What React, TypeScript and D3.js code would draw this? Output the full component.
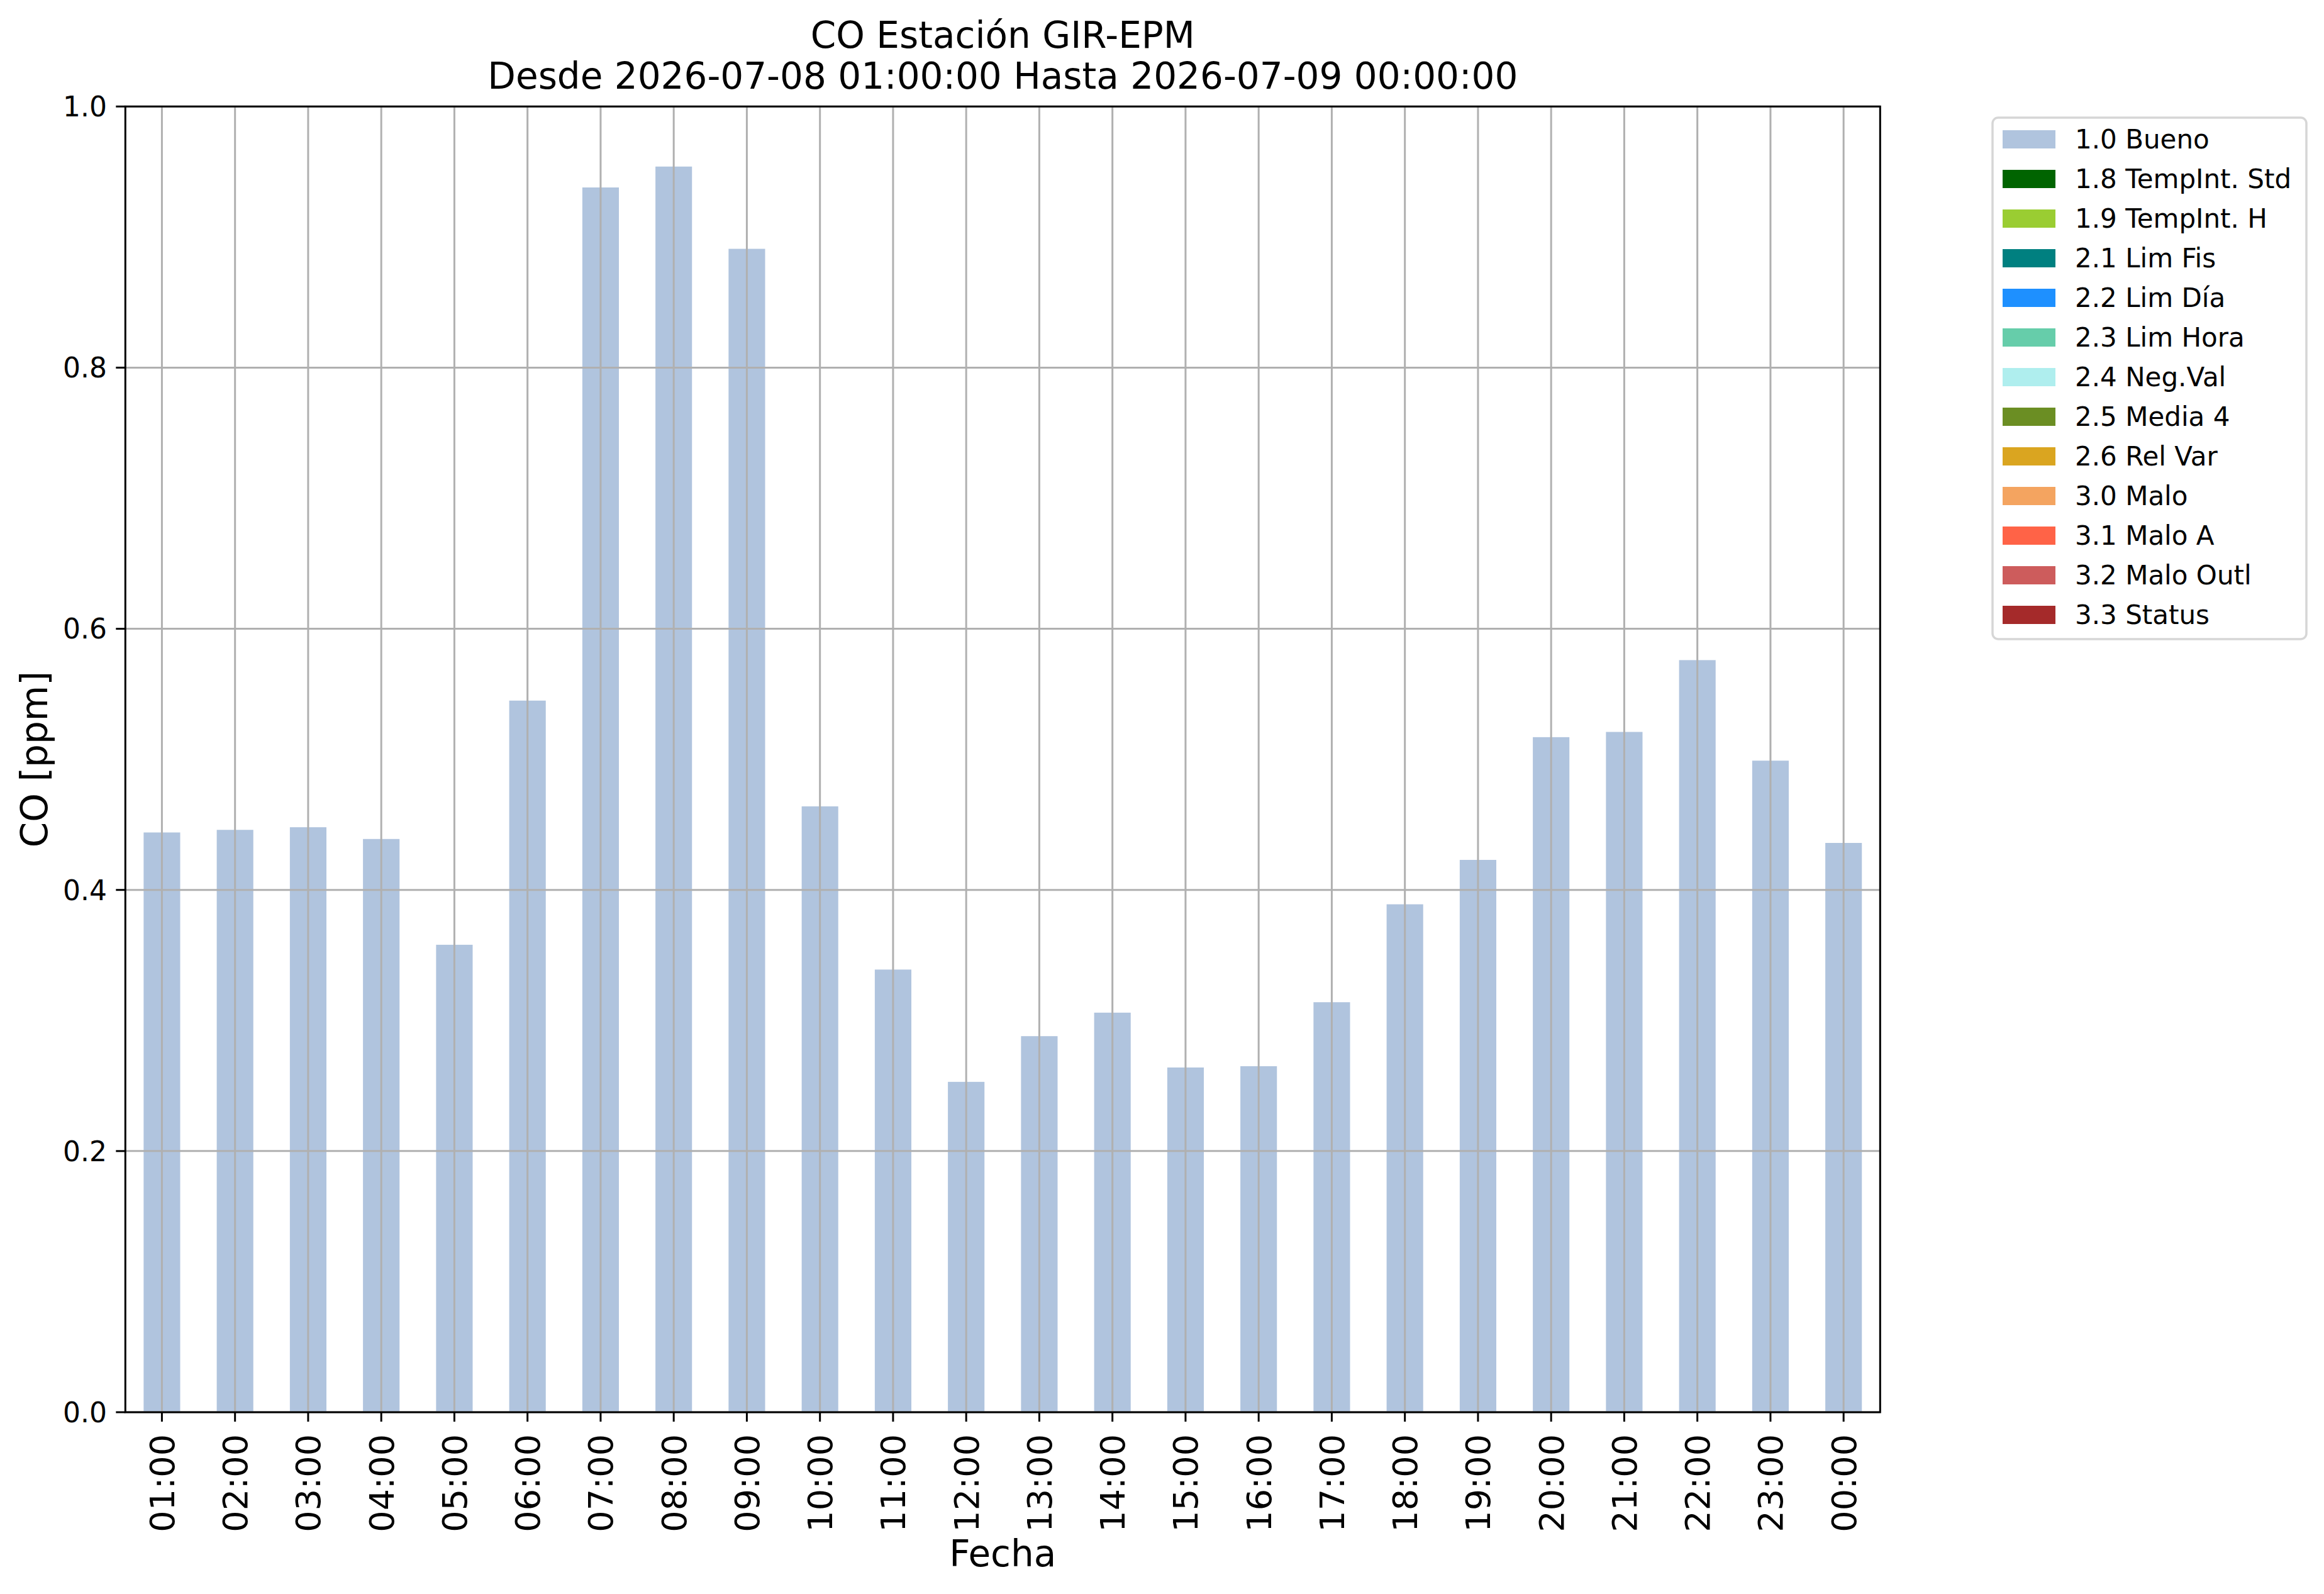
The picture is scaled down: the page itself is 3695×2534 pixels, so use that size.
import React from 'react';
import * as d3 from 'd3';

// Hourly CO concentration, station GIR-EPM
const hours = [
  '01:00', '02:00', '03:00', '04:00', '05:00', '06:00', '07:00', '08:00',
  '09:00', '10:00', '11:00', '12:00', '13:00', '14:00', '15:00', '16:00',
  '17:00', '18:00', '19:00', '20:00', '21:00', '22:00', '23:00', '00:00',
];
const coValues = [
  0.444, 0.446, 0.448, 0.439, 0.358, 0.545, 0.938, 0.954,
  0.891, 0.464, 0.339, 0.253, 0.288, 0.306, 0.264, 0.265,
  0.314, 0.389, 0.423, 0.517, 0.521, 0.576, 0.499, 0.436,
];
const yTicks = [0, 0.2, 0.4, 0.6, 0.8, 1.0];

const legendLabels = [
  '1.0 Bueno', '1.8 TempInt. Std', '1.9 TempInt. H', '2.1 Lim Fis',
  '2.2 Lim Día', '2.3 Lim Hora', '2.4 Neg.Val', '2.5 Media 4',
  '2.6 Rel Var', '3.0 Malo', '3.1 Malo A', '3.2 Malo Outl', '3.3 Status',
];
const legendColors = [
  '#b0c4de', '#006400', '#9acd32', '#008080',
  '#1e90ff', '#66cdaa', '#afeeee', '#6b8e23',
  '#daa520', '#f4a460', '#ff6347', '#cd5c5c', '#a52a2a',
];

const titleLines = ['CO Estación GIR-EPM', 'Desde 2026-07-08 01:00:00 Hasta 2026-07-09 00:00:00'];

const W = 3695;
const H = 2534;
const plot = { left: 199.3, top: 169.3, right: 2989.3, bottom: 2245 };
const font = 'DejaVu Sans, sans-serif';
const gridColor = '#b0b0b0';

export default function App() {
  const x = d3
    .scaleBand<string>()
    .domain(hours)
    .range([plot.left, plot.right])
    .paddingInner(0.5)
    .paddingOuter(0.25);

  const y = d3.scaleLinear().domain([0, 1]).range([plot.bottom, plot.top]);

  const cx = (h: string) => (x(h) ?? 0) + x.bandwidth() / 2;
  const midX = (plot.left + plot.right) / 2;
  const midY = (plot.top + plot.bottom) / 2;

  // legend geometry
  const lg = { x: 3168, y: 187, w: 499, h: 829, patchX: 3184, patchW: 84, patchH: 29, first: 207, step: 63, textX: 3299 };

  return (
    <svg
      width={W}
      height={H}
      viewBox={`0 0 ${W} ${H}`}
      style={{ position: 'absolute', left: 0, top: 0, background: '#fff' }}
      fontFamily={font}
    >
      <rect x={0} y={0} width={W} height={H} fill="#fff" />

      {/* title */}
      {titleLines.map((t, i) => (
        <text key={t} x={midX} y={76 + i * 65} textAnchor="middle" fontSize={58} fill="#000">
          {t}
        </text>
      ))}

      {/* bars */}
      {hours.map((h, i) => (
        <rect
          key={h}
          x={x(h)}
          y={y(coValues[i])}
          width={x.bandwidth()}
          height={y(0) - y(coValues[i])}
          fill="#b0c4de"
        />
      ))}

      {/* grid over bars */}
      {hours.map((h) => (
        <line key={'gx' + h} x1={cx(h)} x2={cx(h)} y1={plot.top} y2={plot.bottom} stroke={gridColor} strokeWidth={3} />
      ))}
      {yTicks.map((t) => (
        <line key={'gy' + t} x1={plot.left} x2={plot.right} y1={y(t)} y2={y(t)} stroke={gridColor} strokeWidth={3} />
      ))}

      {/* spines */}
      <rect
        x={plot.left}
        y={plot.top}
        width={plot.right - plot.left}
        height={plot.bottom - plot.top}
        fill="none"
        stroke="#000"
        strokeWidth={3}
      />

      {/* y ticks */}
      {yTicks.map((t) => (
        <g key={'yt' + t}>
          <line x1={plot.left - 15} x2={plot.left} y1={y(t)} y2={y(t)} stroke="#000" strokeWidth={3} />
          <text x={170} y={y(t)} dy="0.36em" textAnchor="end" fontSize={44} fill="#000">
            {d3.format('.1f')(t)}
          </text>
        </g>
      ))}

      {/* x ticks */}
      {hours.map((h) => (
        <g key={'xt' + h}>
          <line x1={cx(h)} x2={cx(h)} y1={plot.bottom} y2={plot.bottom + 15} stroke="#000" strokeWidth={3} />
          <text
            transform={`translate(${cx(h)},2280) rotate(-90)`}
            dy="0.36em"
            textAnchor="end"
            fontSize={54}
            fill="#000"
          >
            {h}
          </text>
        </g>
      ))}

      {/* axis labels */}
      <text x={midX} y={2490} textAnchor="middle" fontSize={58} fill="#000">
        Fecha
      </text>
      <text transform={`translate(75,${midY}) rotate(-90)`} textAnchor="middle" fontSize={58} fill="#000">
        CO [ppm]
      </text>

      {/* legend */}
      <rect x={lg.x} y={lg.y} width={lg.w} height={lg.h} rx={9} fill="#fff" stroke="#d6d6d6" strokeWidth={3.5} />
      {legendLabels.map((label, i) => (
        <g key={label}>
          <rect
            x={lg.patchX}
            y={lg.first + i * lg.step}
            width={lg.patchW}
            height={lg.patchH}
            fill={legendColors[i]}
          />
          <text x={lg.textX} y={lg.first + i * lg.step + lg.patchH} fontSize={42} fill="#000">
            {label}
          </text>
        </g>
      ))}
    </svg>
  );
}
